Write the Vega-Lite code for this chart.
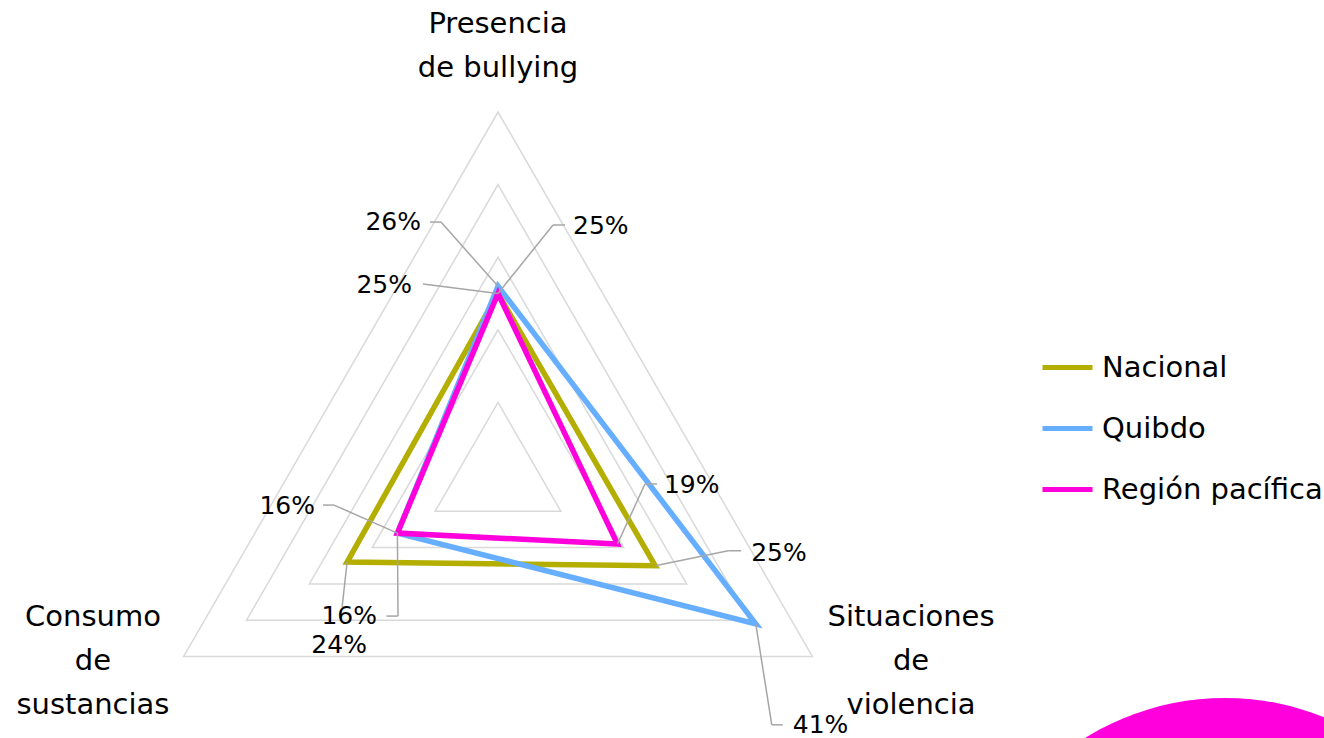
{
  "$schema": "https://vega.github.io/schema/vega-lite/v6.json",
  "autosize": {"type": "none"},
  "padding": 0,
  "width": 1324,
  "height": 738,
  "background": "white",
  "config": {"view": {"stroke": null}, "font": "DejaVu Sans"},
  "datasets": {
    "radar": [
      {"series": "Nacional", "axis": "Presencia de bullying", "value": 25},
      {"series": "Nacional", "axis": "Situaciones de violencia", "value": 25},
      {"series": "Nacional", "axis": "Consumo de sustancias", "value": 24},
      {"series": "Quibdo", "axis": "Presencia de bullying", "value": 26},
      {"series": "Quibdo", "axis": "Situaciones de violencia", "value": 41},
      {"series": "Quibdo", "axis": "Consumo de sustancias", "value": 16},
      {"series": "Región pacífica", "axis": "Presencia de bullying", "value": 25},
      {"series": "Región pacífica", "axis": "Situaciones de violencia", "value": 19},
      {"series": "Región pacífica", "axis": "Consumo de sustancias", "value": 16}
    ],
    "grid": [
      {"level": 10, "axis": "Presencia de bullying"},
      {"level": 10, "axis": "Situaciones de violencia"},
      {"level": 10, "axis": "Consumo de sustancias"},
      {"level": 20, "axis": "Presencia de bullying"},
      {"level": 20, "axis": "Situaciones de violencia"},
      {"level": 20, "axis": "Consumo de sustancias"},
      {"level": 30, "axis": "Presencia de bullying"},
      {"level": 30, "axis": "Situaciones de violencia"},
      {"level": 30, "axis": "Consumo de sustancias"},
      {"level": 40, "axis": "Presencia de bullying"},
      {"level": 40, "axis": "Situaciones de violencia"},
      {"level": 40, "axis": "Consumo de sustancias"},
      {"level": 50, "axis": "Presencia de bullying"},
      {"level": 50, "axis": "Situaciones de violencia"},
      {"level": 50, "axis": "Consumo de sustancias"}
    ],
    "titles": [
      {"axis": "Presencia de bullying", "label": "Presencia\nde bullying"},
      {"axis": "Situaciones de violencia", "label": "Situaciones\nde\nviolencia"},
      {"axis": "Consumo de sustancias", "label": "Consumo\nde\nsustancias"}
    ]
  },
  "layer": [
    {
      "data": {"values": [{"shape": "decor"}]},
      "mark": {"type": "point", "shape": "circle", "filled": true, "opacity": 1, "color": "#FF00DD", "size": 280900},
      "encoding": {
        "x": {"datum": 100.14, "type": "quantitative", "scale": {"domain": [-68.595, 113.774], "nice": false, "zero": false}, "axis": null},
        "y": {"datum": -67.22, "type": "quantitative", "scale": {"domain": [-36.226, 65.427], "nice": false, "zero": false}, "axis": null}
      }
    },
    {
      "data": {"name": "grid"},
      "transform": [
        {"calculate": "datum.axis === 'Presencia de bullying' ? PI/2 : datum.axis === 'Situaciones de violencia' ? -PI/6 : 7*PI/6", "as": "angle"},
        {"calculate": "datum.axis === 'Presencia de bullying' ? 0 : datum.axis === 'Situaciones de violencia' ? 1 : 2", "as": "idx"},
        {"calculate": "datum.level * cos(datum.angle)", "as": "x"},
        {"calculate": "datum.level * sin(datum.angle)", "as": "y"}
      ],
      "mark": {"type": "line", "interpolate": "linear-closed", "color": "#D9D9D9", "strokeWidth": 1.5},
      "encoding": {
        "x": {"field": "x", "type": "quantitative", "scale": {"domain": [-68.595, 113.774], "nice": false, "zero": false}, "axis": null},
        "y": {"field": "y", "type": "quantitative", "scale": {"domain": [-36.226, 65.427], "nice": false, "zero": false}, "axis": null},
        "detail": {"field": "level", "type": "nominal"},
        "order": {"field": "idx", "type": "quantitative"}
      }
    },
    {
      "data": {"name": "radar"},
      "transform": [
        {"calculate": "datum.axis === 'Presencia de bullying' ? PI/2 : datum.axis === 'Situaciones de violencia' ? -PI/6 : 7*PI/6", "as": "angle"},
        {"calculate": "datum.axis === 'Presencia de bullying' ? 0 : datum.axis === 'Situaciones de violencia' ? 1 : 2", "as": "idx"},
        {"calculate": "datum.value * cos(datum.angle)", "as": "x"},
        {"calculate": "datum.value * sin(datum.angle)", "as": "y"}
      ],
      "mark": {"type": "line", "interpolate": "linear-closed", "strokeWidth": 5.5},
      "encoding": {
        "x": {"field": "x", "type": "quantitative", "scale": {"domain": [-68.595, 113.774], "nice": false, "zero": false}, "axis": null},
        "y": {"field": "y", "type": "quantitative", "scale": {"domain": [-36.226, 65.427], "nice": false, "zero": false}, "axis": null},
        "order": {"field": "idx", "type": "quantitative"},
        "color": {
          "field": "series", "type": "nominal",
          "scale": {"domain": ["Nacional", "Quibdo", "Región pacífica"], "range": ["#B3AE00", "#66AEFF", "#FF00DD"]},
          "legend": {
            "orient": "none", "legendX": 1040, "legendY": 340, "title": null,
            "symbolType": "stroke", "symbolStrokeWidth": 5, "symbolSize": 2500,
            "labelFontSize": 29, "labelFont": "DejaVu Sans", "labelColor": "black",
            "labelOffset": 7, "rowPadding": 18, "labelLimit": 400
          }
        }
      }
    },
    {
      "data": {"name": "radar"},
      "transform": [
        {"calculate": "datum.axis === 'Presencia de bullying' ? PI/2 : datum.axis === 'Situaciones de violencia' ? -PI/6 : 7*PI/6", "as": "angle"},
        {"calculate": "datum.axis === 'Presencia de bullying' ? 0 : datum.axis === 'Situaciones de violencia' ? 1 : 2", "as": "idx"},
        {"calculate": "datum.value * cos(datum.angle)", "as": "x"},
        {"calculate": "datum.value * sin(datum.angle)", "as": "y"},
        {"calculate": "(datum.series === 'Nacional' ? 'N' : datum.series === 'Quibdo' ? 'Q' : 'R') + '_' + (datum.idx === 0 ? 'P' : datum.idx === 1 ? 'V' : 'C')", "as": "key"},
        {"calculate": "datum.x + ({N_P: -75, Q_P: -57, R_P: 55, N_V: 73, Q_V: 16, R_V: 27.5, N_C: -5, Q_C: -63.4, R_C: 0.6})[datum.key] / 7.26", "as": "ex"},
        {"calculate": "datum.y - ({N_P: -9.5, Q_P: -64.2, R_P: -68.5, N_V: -15, Q_V: 101, R_V: -60, N_C: 45, Q_C: -28, R_C: 83})[datum.key] / 7.26", "as": "ey"},
        {"calculate": "datum.x + ({N_P: -75, Q_P: -68, R_P: 67, N_V: 86, Q_V: 27, R_V: 39.5, N_C: -5, Q_C: -74.4, R_C: -11})[datum.key] / 7.26", "as": "hx"},
        {"calculate": "datum.x + ({N_P: -86, Q_P: -77, R_P: 75, N_V: 96, Q_V: 37, R_V: 46.5, N_C: -8, Q_C: -82.4, R_C: -20.4})[datum.key] / 7.26", "as": "tx"},
        {"calculate": "datum.y - ({N_P: -8.5, Q_P: -64, R_P: -67.5, N_V: -13, Q_V: 101, R_V: -59, N_C: 83, Q_C: -27, R_C: 83})[datum.key] / 7.26", "as": "ty"},
        {"calculate": "({N_P: 'right', Q_P: 'right', R_P: 'left', N_V: 'left', Q_V: 'left', R_V: 'left', N_C: 'center', Q_C: 'right', R_C: 'right'})[datum.key]", "as": "al"},
        {"calculate": "datum.value + '%'", "as": "lab"}
      ],
      "layer": [
        {
          "mark": {"type": "rule", "color": "#A6A6A6", "strokeWidth": 1.5},
          "encoding": {
            "x": {"field": "x", "type": "quantitative", "scale": {"domain": [-68.595, 113.774], "nice": false, "zero": false}, "axis": null},
            "y": {"field": "y", "type": "quantitative", "scale": {"domain": [-36.226, 65.427], "nice": false, "zero": false}, "axis": null},
            "x2": {"field": "ex"},
            "y2": {"field": "ey"}
          }
        },
        {
          "mark": {"type": "rule", "color": "#A6A6A6", "strokeWidth": 1.5},
          "encoding": {
            "x": {"field": "ex", "type": "quantitative", "scale": {"domain": [-68.595, 113.774], "nice": false, "zero": false}, "axis": null},
            "y": {"field": "ey", "type": "quantitative", "scale": {"domain": [-36.226, 65.427], "nice": false, "zero": false}, "axis": null},
            "x2": {"field": "hx"},
            "y2": {"field": "ey"}
          }
        },
        {
          "transform": [{"filter": "datum.al === 'right'"}],
          "mark": {"type": "text", "align": "right", "baseline": "middle", "fontSize": 25, "color": "black"},
          "encoding": {
            "x": {"field": "tx", "type": "quantitative", "scale": {"domain": [-68.595, 113.774], "nice": false, "zero": false}, "axis": null},
            "y": {"field": "ty", "type": "quantitative", "scale": {"domain": [-36.226, 65.427], "nice": false, "zero": false}, "axis": null},
            "text": {"field": "lab"}
          }
        },
        {
          "transform": [{"filter": "datum.al === 'left'"}],
          "mark": {"type": "text", "align": "left", "baseline": "middle", "fontSize": 25, "color": "black"},
          "encoding": {
            "x": {"field": "tx", "type": "quantitative", "scale": {"domain": [-68.595, 113.774], "nice": false, "zero": false}, "axis": null},
            "y": {"field": "ty", "type": "quantitative", "scale": {"domain": [-36.226, 65.427], "nice": false, "zero": false}, "axis": null},
            "text": {"field": "lab"}
          }
        },
        {
          "transform": [{"filter": "datum.al === 'center'"}],
          "mark": {"type": "text", "align": "center", "baseline": "middle", "fontSize": 25, "color": "black"},
          "encoding": {
            "x": {"field": "tx", "type": "quantitative", "scale": {"domain": [-68.595, 113.774], "nice": false, "zero": false}, "axis": null},
            "y": {"field": "ty", "type": "quantitative", "scale": {"domain": [-36.226, 65.427], "nice": false, "zero": false}, "axis": null},
            "text": {"field": "lab"}
          }
        }
      ]
    },
    {
      "data": {"name": "titles"},
      "transform": [
        {"calculate": "datum.axis === 'Presencia de bullying' ? 0 : datum.axis === 'Situaciones de violencia' ? 56.89 : -55.79", "as": "tx"},
        {"calculate": "datum.axis === 'Presencia de bullying' ? 62.12 : -19.56", "as": "ty"}
      ],
      "mark": {"type": "text", "align": "center", "baseline": "middle", "fontSize": 29, "lineHeight": 44, "lineBreak": "\n", "color": "black"},
      "encoding": {
        "x": {"field": "tx", "type": "quantitative", "scale": {"domain": [-68.595, 113.774], "nice": false, "zero": false}, "axis": null},
        "y": {"field": "ty", "type": "quantitative", "scale": {"domain": [-36.226, 65.427], "nice": false, "zero": false}, "axis": null},
        "text": {"field": "label"}
      }
    }
  ]
}
